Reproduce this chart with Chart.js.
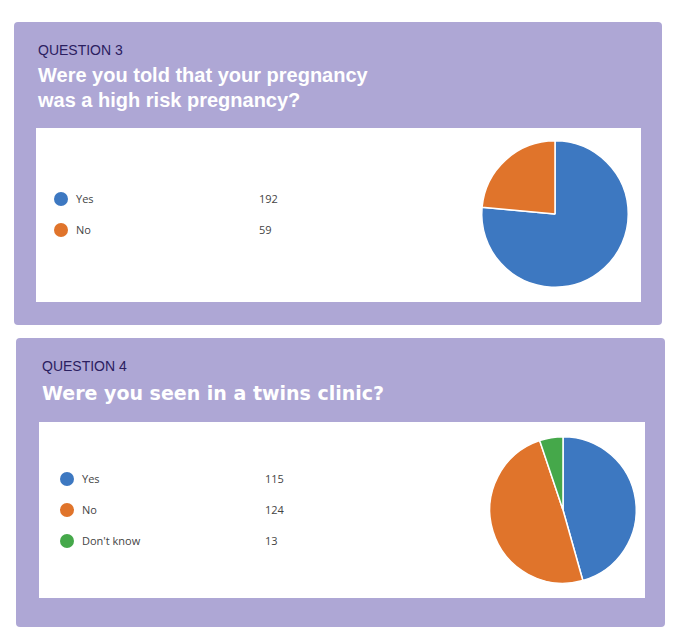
<!DOCTYPE html>
<html><head><meta charset="utf-8">
<script src="https://cdn.jsdelivr.net/npm/chart.js@4"></script>
<style>
body{margin:0;background:#fff;font-family:"Liberation Sans",Arial,sans-serif;width:680px;height:639px;position:relative;overflow:hidden}
.panel{position:absolute;background:#aea7d5;border-radius:4px}
.q{position:absolute;color:#2b2060;font-size:14px}
.t{position:absolute;color:#fff;font-weight:bold;font-size:20px;line-height:25px}
.box{position:absolute;background:#fff}
.leg{position:absolute;font-family:"Open Sans",sans-serif;font-size:11px;color:#444}
.dot{position:absolute;width:14px;height:14px;border-radius:50%}
canvas{position:absolute}
</style></head><body>
<div class="panel" style="left:14px;top:22px;width:648px;height:303px"></div>
<div class="q" style="left:38px;top:42px">QUESTION 3</div>
<div class="t" style="left:38px;top:63px">Were you told that your pregnancy<br>was a high risk pregnancy?</div>
<div class="box" id="b1" style="left:36px;top:128px;width:605px;height:174px"></div>
<div class="panel" style="left:16px;top:338px;width:649px;height:289px"></div>
<div class="q" style="left:42px;top:358px">QUESTION 4</div>
<div class="t" style="left:42px;top:381px;font-family:'DejaVu Sans';font-size:19px">Were you seen in a twins clinic?</div>
<div class="box" id="b2" style="left:39px;top:422px;width:606px;height:176px"></div>
<canvas id="c1" style="left:475px;top:134px" width="160" height="160"></canvas>
<canvas id="c2" style="left:483px;top:430px" width="160" height="160"></canvas>
<script>
const colors = ['#3d78c1', '#e0742b', '#45a84a'];
const q3Labels = ['Yes', 'No'];
const q3Values = [192, 59];
const q4Labels = ['Yes', 'No', "Don't know"];
const q4Values = [115, 124, 13];

function legend(labels, values, left, top) {
  labels.forEach((l, i) => {
    const y = top + i * 31;
    const d = document.createElement('div');
    d.className = 'dot'; d.style.left = left + 'px'; d.style.top = (y - 7) + 'px'; d.style.background = colors[i];
    document.body.appendChild(d);
    const a = document.createElement('div');
    a.className = 'leg'; a.style.left = (left + 22) + 'px'; a.style.top = (y - 8) + 'px'; a.textContent = l;
    document.body.appendChild(a);
    const b = document.createElement('div');
    b.className = 'leg'; b.style.left = (left + 205) + 'px'; b.style.top = (y - 8) + 'px'; b.textContent = values[i];
    document.body.appendChild(b);
  });
}
legend(q3Labels, q3Values, 54, 199);
legend(q4Labels, q4Values, 60, 479);

function pie(id, labels, values) {
  new Chart(document.getElementById(id), {
    type: 'pie',
    data: { labels: labels, datasets: [{ data: values, backgroundColor: colors.slice(0, values.length), borderColor: '#fff', borderWidth: 1.5 }] },
    options: { responsive: false, animation: false, layout: { padding: 6 }, plugins: { legend: { display: false }, tooltip: { enabled: false } } }
  });
}
pie('c1', q3Labels, q3Values);
pie('c2', q4Labels, q4Values);
</script>
</body></html>
